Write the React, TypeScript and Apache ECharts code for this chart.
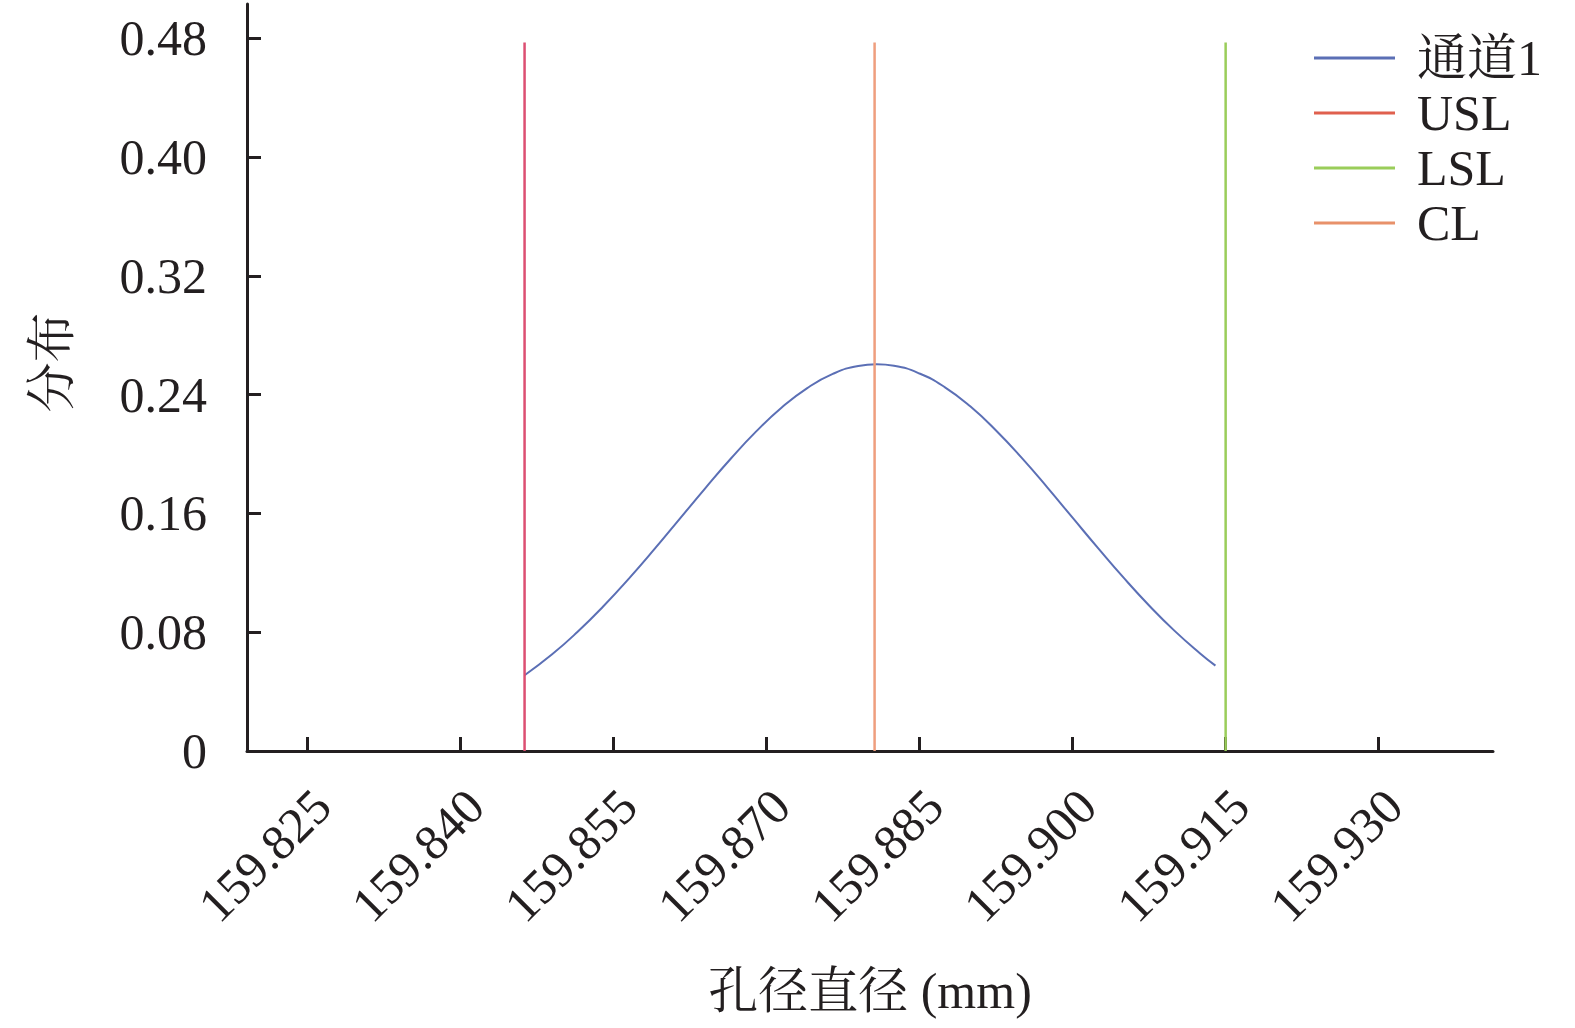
import React, { useEffect, useRef } from "react";
import * as echarts from "echarts";

const X_TICKS = [159.825, 159.84, 159.855, 159.87, 159.885, 159.9, 159.915, 159.93];
const Y_TICKS = [0, 0.08, 0.16, 0.24, 0.32, 0.4, 0.48];
const X_MIN = 159.8191;
const X_MAX = 159.9412;
const Y_MAX = 0.503;

const curveX = [
  159.8463, 159.849, 159.8515, 159.854, 159.8565, 159.859, 159.8615, 159.864,
  159.8665, 159.869, 159.8715, 159.874, 159.8765, 159.879, 159.8808, 159.8825,
  159.885, 159.8875, 159.89, 159.8925, 159.895, 159.8975, 159.9, 159.9025,
  159.905, 159.9075, 159.91, 159.9125, 159.914,
];
const curveY = [
  0.051, 0.0651, 0.0803, 0.0973, 0.1159, 0.1357, 0.1563, 0.1769, 0.1968, 0.2152,
  0.2313, 0.2444, 0.2539, 0.2593, 0.2604, 0.2594, 0.2542, 0.2449, 0.2319, 0.2158,
  0.1975, 0.1777, 0.1571, 0.1366, 0.1167, 0.098, 0.0809, 0.0657, 0.0575,
];

const USL = 159.8463;
const LSL = 159.915;
const CL = 159.8806;
const LIMIT_TOP = 0.477;

const SERIES_NAMES = ["通道1", "USL", "LSL", "CL"];
const LINE_COLORS = ["#5b6fb5", "#dc4f72", "#9acd5a", "#ef9e7e"];
const LEGEND_COLORS = ["#5b6fb5", "#e0604e", "#9acd5a", "#e8916a"];

const FONT = "'Liberation Serif', 'Times New Roman', 'Noto Serif CJK SC', 'Noto Sans CJK SC', serif";
const INK = "#231f20";

export default function App() {
  const ref = useRef<HTMLDivElement>(null);
  useEffect(() => {
    if (!ref.current) return;
    const chart = echarts.init(ref.current, undefined, { renderer: "svg" });
    const vline = (x: number) => [
      [x, 0],
      [x, LIMIT_TOP],
    ];
    const option = {
      animation: false,
      backgroundColor: "#ffffff",
      textStyle: { fontFamily: FONT, color: INK },
      grid: {
        left: 247,
        right: 82,
        top: 4,
        bottom: 277,
        containLabel: false,
        outerBoundsMode: "none",
      },
      legend: {
        orient: "vertical",
        left: 1314,
        top: 33,
        padding: 0,
        icon: "rect",
        itemWidth: 81,
        itemHeight: 3,
        itemGap: 5,
        textStyle: {
          fontFamily: FONT,
          fontSize: 50,
          color: INK,
          lineHeight: 50,
          padding: [0, 0, 0, 17],
        },
        data: SERIES_NAMES.map((n, i) => ({ name: n, itemStyle: { color: LEGEND_COLORS[i] } })),
      },
      xAxis: {
        type: "value",
        min: X_MIN,
        max: X_MAX,
        name: "孔径直径 (mm)",
        nameLocation: "middle",
        nameGap: 215,
        nameTextStyle: { fontFamily: FONT, fontSize: 50, color: INK },
        axisLine: { show: true, onZero: false, lineStyle: { color: INK, width: 3 } },
        axisTick: {
          show: true,
          inside: true,
          length: 14,
          lineStyle: { color: INK, width: 3 },
          customValues: X_TICKS,
        },
        axisLabel: {
          show: true,
          rotate: 45,
          margin: 32,
          verticalAlign: "top",
          lineHeight: 42,
          fontFamily: FONT,
          fontSize: 50,
          color: INK,
          customValues: X_TICKS,
          formatter: (v: number) => v.toFixed(3),
        },
        splitLine: { show: false },
      },
      yAxis: {
        type: "value",
        min: 0,
        max: Y_MAX,
        name: "分布",
        nameLocation: "middle",
        nameGap: 170,
        nameRotate: 90,
        nameTextStyle: { fontFamily: FONT, fontSize: 50, color: INK, padding: [0, 0, 0, 30] },
        axisLine: { show: true, lineStyle: { color: INK, width: 3 } },
        axisTick: {
          show: true,
          inside: true,
          length: 14,
          lineStyle: { color: INK, width: 3 },
          customValues: Y_TICKS,
        },
        axisLabel: {
          show: true,
          margin: 40,
          fontFamily: FONT,
          fontSize: 50,
          color: INK,
          customValues: Y_TICKS,
          formatter: (v: number) => (v === 0 ? "0" : v.toFixed(2)),
        },
        splitLine: { show: false },
      },
      series: [
        {
          name: SERIES_NAMES[0],
          type: "line",
          smooth: true,
          symbol: "none",
          data: curveX.map((x, i) => [x, curveY[i]]),
          lineStyle: { color: LINE_COLORS[0], width: 2 },
          itemStyle: { color: LINE_COLORS[0] },
        },
        {
          name: SERIES_NAMES[1],
          type: "line",
          symbol: "none",
          data: vline(USL),
          lineStyle: { color: LINE_COLORS[1], width: 2.5 },
          itemStyle: { color: LINE_COLORS[1] },
        },
        {
          name: SERIES_NAMES[2],
          type: "line",
          symbol: "none",
          data: vline(LSL),
          lineStyle: { color: LINE_COLORS[2], width: 2.5 },
          itemStyle: { color: LINE_COLORS[2] },
        },
        {
          name: SERIES_NAMES[3],
          type: "line",
          symbol: "none",
          data: vline(CL),
          lineStyle: { color: LINE_COLORS[3], width: 2.5 },
          itemStyle: { color: LINE_COLORS[3] },
        },
      ],
    };
    chart.setOption(option as any);
    return () => chart.dispose();
  }, []);
  return (
    <div
      ref={ref}
      style={{ position: "fixed", left: 0, top: 0, width: 1575, height: 1028, background: "#fff" }}
    />
  );
}
